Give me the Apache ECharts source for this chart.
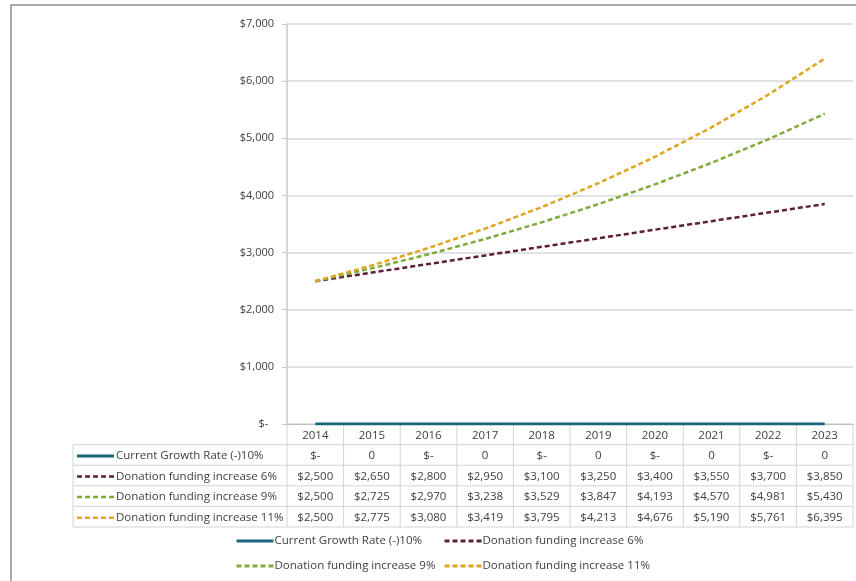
<!DOCTYPE html>
<html>
<head>
<meta charset="utf-8">
<script src="https://cdn.jsdelivr.net/npm/echarts@6/dist/echarts.min.js"></script>
<style>
  html, body { margin: 0; padding: 0; background: #fff; }
  #chart { width: 856px; height: 581px; }
</style>
</head>
<body>
<div id="chart"></div>
<script>
// data
const years = ['2014', '2015', '2016', '2017', '2018', '2019', '2020', '2021', '2022', '2023'];
const currentGrowth = [0, 0, 0, 0, 0, 0, 0, 0, 0, 0];
const currentLabels = ['$-', '0', '$-', '0', '$-', '0', '$-', '0', '$-', '0'];
const increase6 = [2500, 2650, 2800, 2950, 3100, 3250, 3400, 3550, 3700, 3850];
const increase9 = [2500, 2725, 2970, 3238, 3529, 3847, 4193, 4570, 4981, 5430];
const increase11 = [2500, 2775, 3080, 3419, 3795, 4213, 4676, 5190, 5761, 6395];
const yTicks = [0, 1000, 2000, 3000, 4000, 5000, 6000, 7000];

const names = [
  'Current Growth Rate (-)10%',
  'Donation funding increase 6%',
  'Donation funding increase 9%',
  'Donation funding increase 11%'
];
const colors = ['#17687a', '#5b2038', '#7eab3c', '#dfa521'];

const fmt = v => v === 0 ? '$-  ' : '$' + v.toLocaleString('en-US');
const font = '"Open Sans", "Noto Sans", sans-serif';

const myChart = echarts.init(document.getElementById('chart'));

function lineSeries(i, data, dashed) {
  return {
    name: names[i],
    type: 'line',
    data: data,
    symbol: 'none',
    z: i === 0 ? 5 : 3,
    lineStyle: {
      color: colors[i],
      width: dashed ? 2.5 : 3,
      type: dashed ? [5, 3] : 'solid'
    },
    itemStyle: { color: colors[i] }
  };
}

function legendBlock(items, left) {
  return {
    data: items,
    orient: 'vertical',
    left: left,
    top: 535,
    padding: 0,
    itemWidth: 37,
    itemHeight: 12,
    itemGap: 13,
    itemStyle: { opacity: 0 },
    lineStyle: { width: 3 },
    textStyle: { fontSize: 11.5, color: '#404040', padding: [0, 0, 0, -4] }
  };
}

myChart.setOption({
  animation: false,
  textStyle: { fontFamily: font },
  grid: { left: 287, right: 3, top: 24, bottom: 157 },
  legend: [
    legendBlock([names[0], names[2]], 235),
    legendBlock([names[1], names[3]], 443)
  ],
  xAxis: {
    type: 'category',
    data: years,
    boundaryGap: true,
    axisLine: { lineStyle: { color: '#bfbfbf', width: 1 } },
    axisTick: { show: false },
    axisLabel: { show: false }
  },
  yAxis: {
    type: 'value',
    min: 0,
    max: 7000,
    interval: 1000,
    axisLine: { show: true, lineStyle: { color: '#c8c8c8', width: 1.5 } },
    axisTick: { show: true, length: 5, lineStyle: { color: '#c8c8c8' } },
    splitLine: { lineStyle: { color: '#d9d9d9', width: 1.5 } },
    axisLabel: {
      fontSize: 11,
      color: '#404040',
      margin: 13,
      formatter: v => yTicks.indexOf(v) >= 0 ? fmt(v) : ''
    }
  },
  series: [
    lineSeries(0, currentGrowth, false),
    lineSeries(1, increase6, true),
    lineSeries(2, increase9, true),
    lineSeries(3, increase11, true)
  ]
});

// data table under the plot, placed from the x axis scale
function drawTable() {
  const top = myChart.convertToPixel({ yAxisIndex: 0 }, 0);
  const half = (myChart.convertToPixel({ xAxisIndex: 0 }, 1) - myChart.convertToPixel({ xAxisIndex: 0 }, 0)) / 2;
  const x0 = myChart.convertToPixel({ xAxisIndex: 0 }, 0) - half;
  const x1 = myChart.convertToPixel({ xAxisIndex: 0 }, years.length - 1) + half;
  const rowH = 20.6;
  const tableLeft = 73;
  const border = { stroke: '#d4d4d4', lineWidth: 1 };
  const g = [];

  // outer frame
  g.push({ type: 'rect', shape: { x: 11, y: 5, width: 900, height: 700 }, style: { fill: null, stroke: '#8f8f8f', lineWidth: 1.5 } });

  // horizontal lines
  for (let r = 1; r <= 5; r++) {
    const y = top + r * rowH;
    g.push({ type: 'line', shape: { x1: tableLeft, y1: y, x2: x1, y2: y }, style: border });
  }
  // vertical lines
  for (let c = 0; c <= years.length; c++) {
    const x = x0 + c * half * 2;
    g.push({ type: 'line', shape: { x1: x, y1: top, x2: x, y2: top + 5 * rowH }, style: border });
  }
  g.push({ type: 'line', shape: { x1: tableLeft, y1: top + rowH, x2: tableLeft, y2: top + 5 * rowH }, style: border });

  const rows = [
    years,
    currentLabels,
    increase6.map(fmt),
    increase9.map(fmt),
    increase11.map(fmt)
  ];
  rows.forEach((row, r) => {
    row.forEach((txt, c) => {
      g.push({
        type: 'text',
        x: myChart.convertToPixel({ xAxisIndex: 0 }, c),
        y: top + r * rowH + rowH / 2 + 1,
        style: { text: txt, fill: '#404040', font: '11.5px ' + font, align: 'center', verticalAlign: 'middle' }
      });
    });
  });

  // row headers with line keys
  names.forEach((n, i) => {
    const y = top + (i + 1) * rowH + rowH / 2 + 1;
    g.push({
      type: 'line',
      shape: { x1: 77, y1: y, x2: 114, y2: y },
      style: { stroke: colors[i], lineWidth: i === 0 ? 3 : 2.5, lineDash: i === 0 ? null : [5, 3] }
    });
    g.push({
      type: 'text',
      x: 116,
      y: y,
      style: { text: n, fill: '#404040', font: '11.5px ' + font, align: 'left', verticalAlign: 'middle' }
    });
  });

  myChart.setOption({ graphic: g });
}
drawTable();
</script>
</body>
</html>
